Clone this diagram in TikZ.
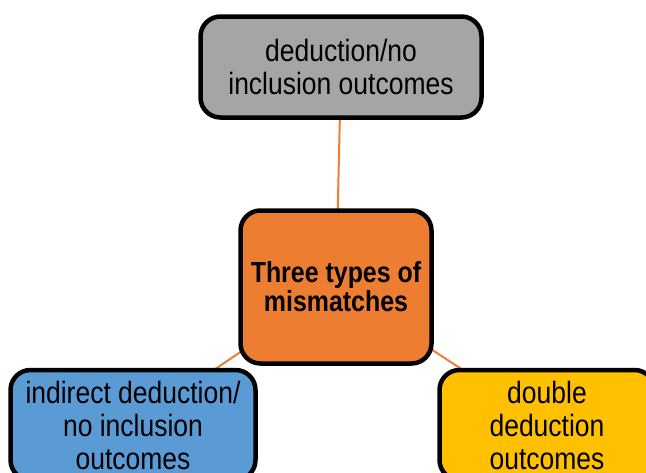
\documentclass[tikz,border=0pt]{standalone}
\usepackage{fontspec}
\setmainfont{Liberation Sans}[FakeStretch=0.86]
\usepackage{tikz}
\usetikzlibrary{backgrounds}
\definecolor{boxgray}{HTML}{A5A5A5}
\definecolor{boxorange}{HTML}{ED7D31}
\definecolor{boxblue}{HTML}{5B9BD5}
\definecolor{boxgold}{HTML}{FFC000}
\tikzset{box/.style = {draw=black, line width=4.5pt, rounded corners=20pt,
                       inner sep=0pt, align=center,
                       font=\fontsize{30.8}{33}\selectfont},
         link/.style = {draw=boxorange, line width=2pt}}

\begin{document}
\begin{tikzpicture}[x=1pt, y=-1pt]
      \useasboundingbox (0, 0) rectangle (646, 472);
      \clip (0, 0) rectangle (646, 472);

      \node [box, fill=boxgray, minimum width=281pt, minimum height=101pt]
        (deduct) at (341, 67) {deduction/no\\inclusion outcomes};
      \node [box, fill=boxorange, minimum width=191pt, minimum height=153pt,
             font=\fontsize{29}{29}\selectfont\bfseries]
        (mis) at (336, 287) {Three types of\\mismatches};
      \node [box, fill=boxblue, minimum width=245pt, minimum height=110pt]
        (indirect) at (133, 425) {indirect deduction/\\no inclusion\\outcomes};
      \node [box, fill=boxgold, minimum width=215pt, minimum height=110pt]
        (double) at (547, 425) {double\\deduction\\outcomes};

      \begin{scope}[on background layer]
        \draw [link] (mis.center) -- (deduct.center);
        \draw [link] (mis.center) -- (indirect.center);
        \draw [link] (mis.center) -- (double.center);
      \end{scope}
    \end{tikzpicture}
\end{document}
